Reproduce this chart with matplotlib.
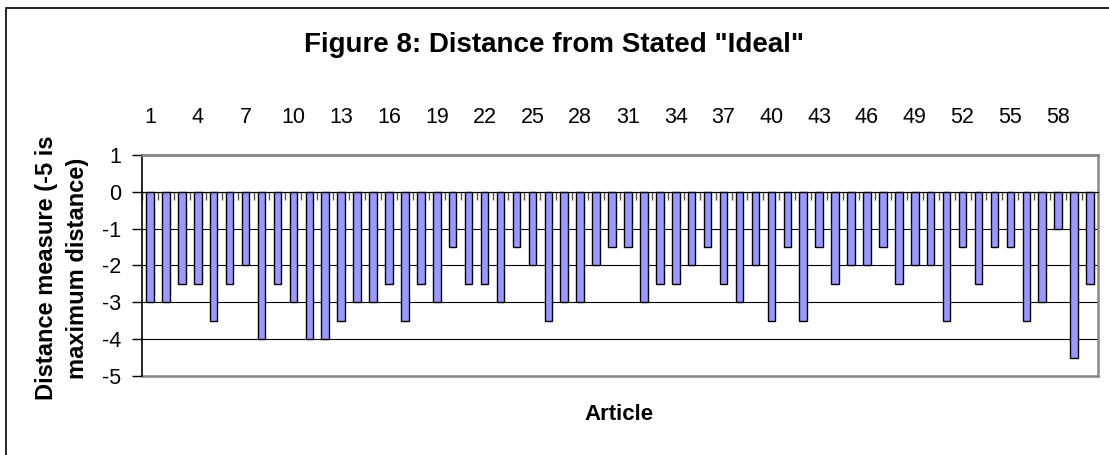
import matplotlib
matplotlib.use("Agg")
import matplotlib.pyplot as plt
import numpy as np
from matplotlib.patches import Rectangle

plt.rcParams['font.family'] = ['Liberation Sans', 'DejaVu Sans']

# 文章编号及其与“理想”的距离
articles = np.arange(1, 61)
distance = [-3, -3, -2.5, -2.5, -3.5, -2.5, -2, -4, -2.5, -3,
            -4, -4, -3.5, -3, -3, -2.5, -3.5, -2.5, -3, -1.5,
            -2.5, -2.5, -3, -1.5, -2, -3.5, -3, -3, -2, -1.5,
            -1.5, -3, -2.5, -2.5, -2, -1.5, -2.5, -3, -2, -3.5,
            -1.5, -3.5, -1.5, -2.5, -2, -2, -1.5, -2.5, -2, -2,
            -3.5, -1.5, -2.5, -1.5, -1.5, -3.5, -3, -1, -4.5, -2.5]
tick_articles = articles[::3]
y_ticks = [1, 0, -1, -2, -3, -4, -5]

fig = plt.figure(figsize=(11.09, 4.55), dpi=100)
ax = fig.add_axes([142/1109, 1 - 376/455, 956/1109, 221/455])

ax.bar(articles, distance, width=0.47, color='#9999FF', edgecolor='black',
       linewidth=1, zorder=3)

ax.set_xlim(0.5, 60.5)
ax.set_ylim(-5, 1)
ax.set_yticks(y_ticks)
ax.set_yticklabels([str(v) for v in y_ticks], fontsize=15.5)
ax.tick_params(axis='y', direction='out', length=7, width=1, pad=8)
ax.yaxis.grid(True, color='black', linewidth=0.8, zorder=1)

# 分类轴放在 0 处，刻度线位于柱子之间
ax.spines['bottom'].set_position(('data', 0))
ax.spines['bottom'].set_zorder(4)
ax.set_xticks([])
ax.set_xticks(np.arange(0.5, 61, 1), minor=True)
ax.tick_params(axis='x', which='minor', direction='out', length=6,
               width=1, color='#555555')
ax.spines['left'].set_linewidth(1.2)
for side in ['top', 'right']:
    ax.spines[side].set_color('#888888')
    ax.spines[side].set_linewidth(1.8)
ax.plot([0, 1], [0, 0], transform=ax.transAxes, color='#888888',
        linewidth=1.8, clip_on=False, zorder=2)

# 顶部的文章编号标签
top = ax.secondary_xaxis('top')
top.set_xticks(tick_articles)
top.set_xticklabels([str(a) for a in tick_articles], fontsize=15.5)
top.tick_params(length=0, pad=19.5)
top.spines['top'].set_color('#888888')
top.spines['top'].set_linewidth(1.8)

fig.text(0.5, 1 - 45/455, 'Figure 8: Distance from Stated "Ideal"',
         ha='center', va='center', fontsize=20, fontweight='bold')
fig.text(619/1109, 1 - 415/455, 'Article', ha='center', va='center',
         fontsize=16, fontweight='bold')
fig.text(62/1109, 1 - 268/455, 'Distance measure (-5 is\nmaximum distance)',
         ha='center', va='center', rotation=90, fontsize=17,
         fontweight='bold', linespacing=1.4)

# 图表外框
fig.add_artist(Rectangle((6/1109, -0.2), 1.2, 1.2 - 8/455,
                         transform=fig.transFigure, fill=False,
                         edgecolor='black', linewidth=1.2))

fig.savefig('out.png', dpi=100)
